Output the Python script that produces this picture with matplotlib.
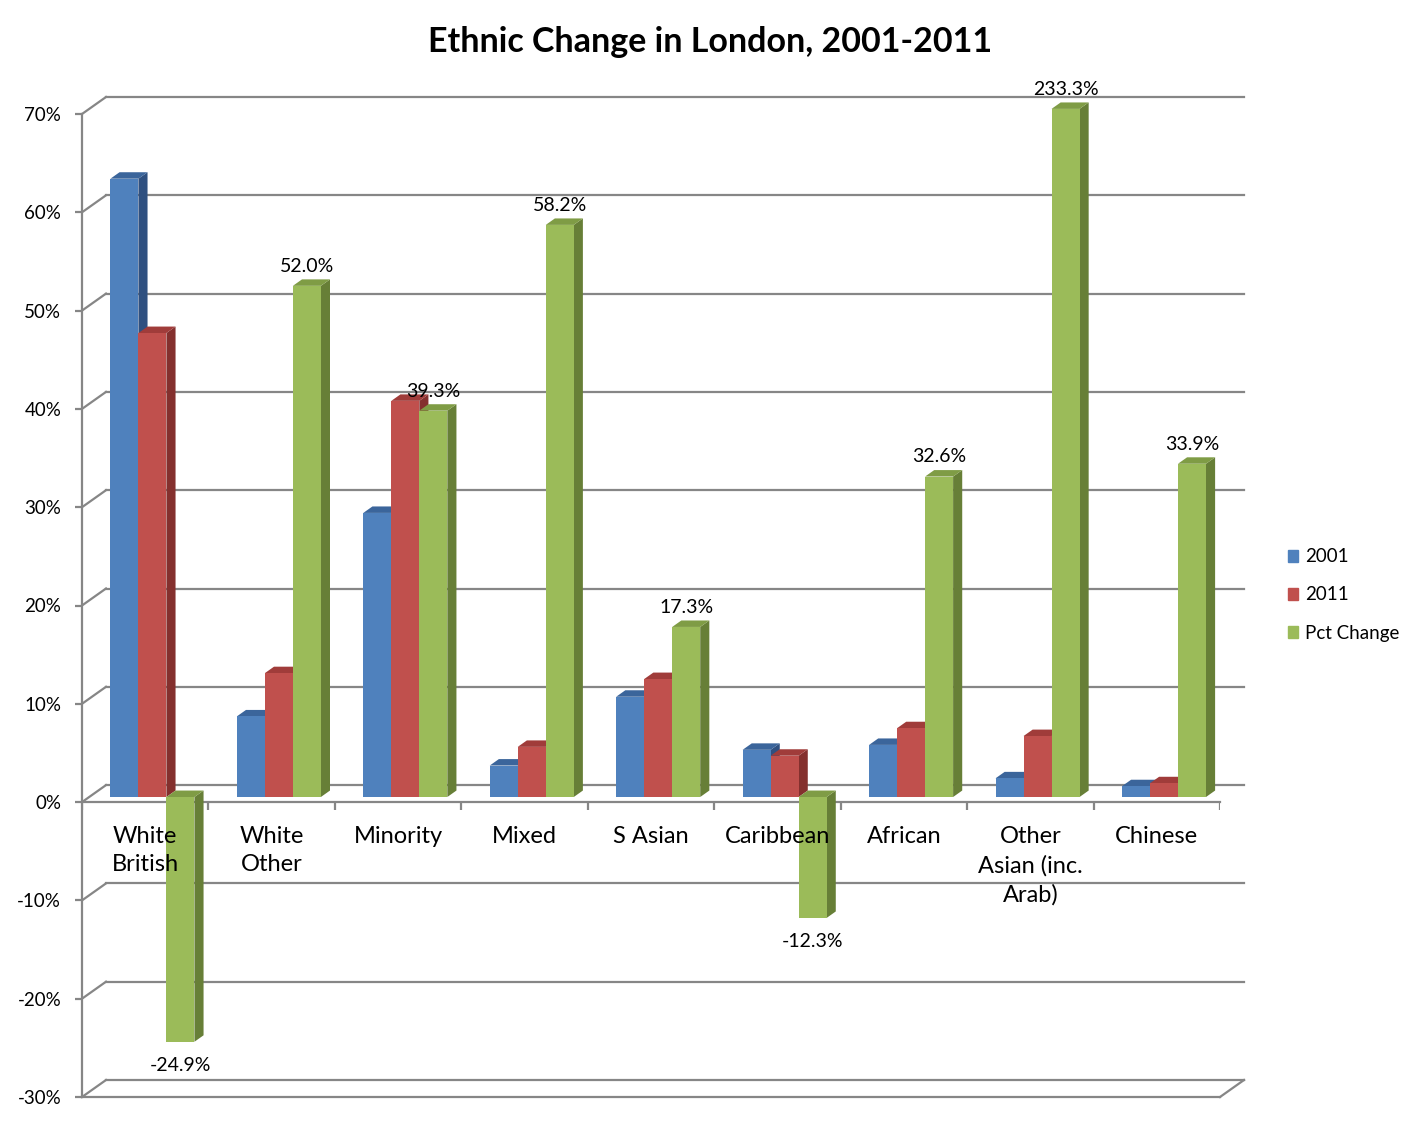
import matplotlib
matplotlib.use('Agg')
import matplotlib.pyplot as plt
from matplotlib.patches import Polygon, Patch
import numpy as np

plt.rcParams['font.family'] = ['Lato', 'DejaVu Sans']

categories = ['White\nBritish', 'White\nOther', 'Minority', 'Mixed', 'S Asian',
              'Caribbean', 'African', 'Other\nAsian (inc.\nArab)', 'Chinese']
share_2001 = [62.9, 8.2, 28.9, 3.2, 10.2, 4.8, 5.3, 1.9, 1.1]
share_2011 = [47.2, 12.6, 40.3, 5.1, 12.0, 4.2, 7.0, 6.2, 1.4]
pct_change = [-24.9, 52.0, 39.3, 58.2, 17.3, -12.3, 32.6, 233.3, 33.9]
series_names = ['2001', '2011', 'Pct Change']
y_ticks = list(range(-30, 80, 10))

# front, top, side colours for each series
face_cols = ['#4f81bd', '#c0504d', '#9bbb59']
top_cols = ['#3b659b', '#a03c3a', '#7f9c45']
side_cols = ['#2f5080', '#84302e', '#677f37']
grid_col = '#868686'

W, H = 1420, 1127
fig = plt.figure(figsize=(W / 100, H / 100), dpi=100)
ax = fig.add_axes([82 / W, (H - 1097) / H, (1220 - 82) / W, (1097 - 114) / H])
ymin, ymax = -30, 70
ax.set_xlim(0, 9)
ax.set_ylim(ymin, ymax)

# depth of the "3d" box in data units (24px right, 17px up)
DX = 24 / (1138 / 9)
DY = 17 / (983 / 100)
d0, d1 = 0.3, 0.68

# back wall gridlines and the short side-wall diagonals
for v in y_ticks:
    ax.plot([DX, 9 + DX], [v + DY, v + DY], color=grid_col, lw=1.6, zorder=1, clip_on=False)
    ax.plot([0, DX], [v, v + DY], color=grid_col, lw=1.6, zorder=1, clip_on=False)
ax.plot([0, 9], [ymin, ymin], color=grid_col, lw=1.6, zorder=1, clip_on=False)
ax.plot([9, 9 + DX], [ymin, ymin + DY], color=grid_col, lw=1.6, zorder=1, clip_on=False)

# category axis at 0
ax.plot([0, 9], [0, 0], color=grid_col, lw=1.6, zorder=2, clip_on=False)
ax.vlines(np.arange(10), -0.8, 0, color=grid_col, lw=1.6, zorder=2)

w = 0.2215
values = [share_2001, share_2011, pct_change]


def draw_bar(x0, v, j):
    v = min(v, ymax)
    hi, lo = max(v, 0), min(v, 0)
    xa = x0 + d0 * DX
    xb = x0 + w + d0 * DX
    ya, yb = d0 * DY, d1 * DY
    side = [(xb, lo + ya), (xb, hi + ya), (xb + (d1 - d0) * DX, hi + yb), (xb + (d1 - d0) * DX, lo + yb)]
    top = [(xa, hi + ya), (xb, hi + ya), (xb + (d1 - d0) * DX, hi + yb), (xa + (d1 - d0) * DX, hi + yb)]
    ax.add_patch(Polygon(side, closed=True, fc=side_cols[j], ec='none', zorder=3, clip_on=False))
    ax.add_patch(Polygon(top, closed=True, fc=top_cols[j], ec='none', zorder=3, clip_on=False))
    ax.bar(xa, hi - lo, width=w, bottom=lo + ya, align='edge', color=face_cols[j],
           edgecolor='none', zorder=3, clip_on=False)


for i in range(len(categories)):
    for j in range(3):
        x0 = i + 0.5 - 1.5 * w + j * w
        draw_bar(x0, values[j][i], j)

# data labels for pct change
for i, v in enumerate(pct_change):
    x0 = i + 0.5 + 0.5 * w + d0 * DX
    vv = min(v, ymax)
    if v >= 0:
        ax.annotate(f'{v:.1f}%', (x0 + w / 2, vv + d0 * DY), xytext=(0, 8), textcoords='offset points',
                    ha='center', va='bottom', fontsize=14, zorder=6, annotation_clip=False)
    else:
        ax.annotate(f'{v:.1f}%', (x0 + w / 2, vv + d0 * DY), xytext=(0, -11), textcoords='offset points',
                    ha='center', va='top', fontsize=14, zorder=6, annotation_clip=False)

# category labels
for i, c in enumerate(categories):
    ax.annotate(c, (i + 0.5, 0), xytext=(0, -17), textcoords='offset points', ha='center', va='top',
                fontsize=17, linespacing=1.45, zorder=6, annotation_clip=False)

for s in ['top', 'right', 'bottom']:
    ax.spines[s].set_visible(False)
ax.spines['left'].set_color(grid_col)
ax.spines['left'].set_linewidth(1.6)
ax.set_xticks([])
ax.set_yticks(y_ticks)
ax.set_yticklabels([f'{t}%' for t in y_ticks])
ax.tick_params(axis='y', direction='out', length=5, width=1.6, color=grid_col, labelsize=13.5, pad=10)
ax.patch.set_visible(False)

fig.text(0.5, 1 - 42 / H, 'Ethnic Change in London, 2001-2011', ha='center', va='center',
         fontsize=24.5, fontweight='bold')

handles = [Patch(color=c) for c in face_cols]
fig.legend(handles, series_names, loc='center left', bbox_to_anchor=(1271 / W, 1 - 595 / H),
           frameon=False, fontsize=13.5, handlelength=0.55, handleheight=0.55, handletextpad=0.35,
           labelspacing=1.12)

fig.savefig('out.png', dpi=100)
